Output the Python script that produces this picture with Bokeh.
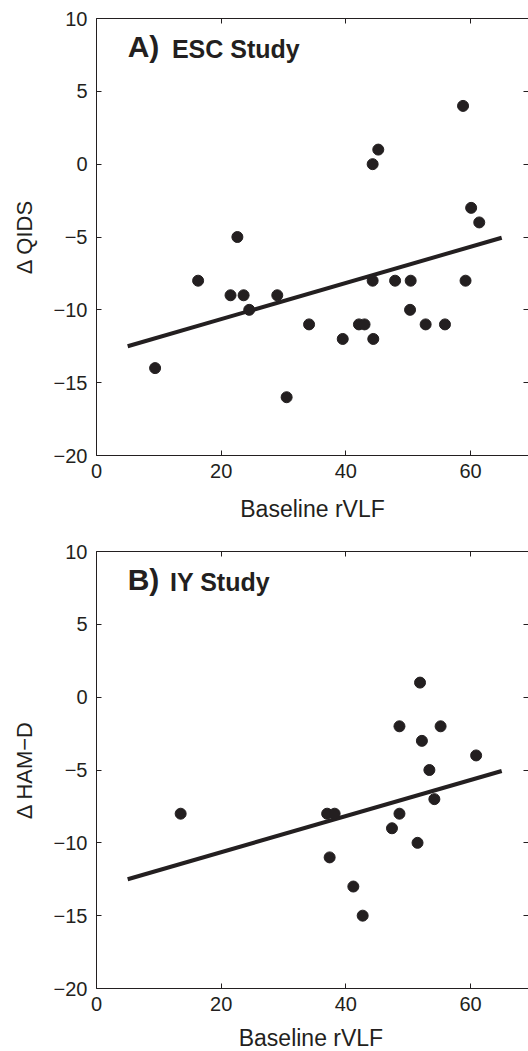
from bokeh.plotting import figure
from bokeh.models import LinearAxis, FixedTicker, Range1d, Label
from bokeh.layouts import column
from bokeh.embed import file_html
from bokeh.resources import INLINE

# ---- data -------------------------------------------------------------
x_ticks = [0, 20, 40, 60]
y_ticks = [-20, -15, -10, -5, 0, 5, 10]
y_tick_labels = ["\u221220", "\u221215", "\u221210", "\u22125", "0", "5", "10"]

esc_rvlf = [9.4, 16.3, 21.5, 22.6, 23.6, 24.5, 29.0, 30.5, 34.1, 39.5, 42.1, 43.0,
            44.3, 45.2, 44.3, 44.4, 47.9, 50.4, 50.3, 52.8, 55.9, 58.8, 59.2, 60.1, 61.4]
esc_dqids = [-14, -8, -9, -5, -9, -10, -9, -16, -11, -12, -11, -11,
             0, 1, -8, -12, -8, -8, -10, -11, -11, 4, -8, -3, -4]

iy_rvlf = [13.5, 37.0, 38.2, 37.4, 41.2, 42.7, 47.4, 48.6, 48.6, 51.5, 51.9, 52.2,
           53.4, 54.2, 55.2, 60.9]
iy_dhamd = [-8, -8, -8, -11, -13, -15, -9, -2, -8, -10, 1, -3, -5, -7, -2, -4]

fit_x = [5, 65]
esc_fit_y = [-12.5, -5.05]
iy_fit_y = [-12.5, -5.07]

FONT = "Liberation Sans"
INK = "#231f20"
XLABEL = "Baseline rVLF"
X_END = 69.3


def blank_axis(ticks):
    return LinearAxis(ticker=FixedTicker(ticks=ticks),
                      major_label_overrides={t: " " for t in ticks},
                      major_label_text_font_size="0px",
                      major_label_standoff=0,
                      major_tick_in=5, major_tick_out=0,
                      minor_tick_in=0, minor_tick_out=0,
                      major_tick_line_color=INK,
                      axis_line_color=INK)


def make_panel(xs, ys, fy, letter, study, study_x, ylabel, height, border_bottom,
               xlabel_as_axis):
    p = figure(width=528, height=height,
               x_range=Range1d(0, X_END), y_range=Range1d(-20, 10),
               output_backend="svg", toolbar_location=None,
               x_axis_location=None, y_axis_location=None,
               min_border_left=96, min_border_right=0,
               min_border_top=18, min_border_bottom=border_bottom)
    p.outline_line_color = None
    p.grid.grid_line_color = None
    p.background_fill_color = "white"
    p.border_fill_color = "white"

    common = dict(major_tick_in=5, major_tick_out=0, minor_tick_in=0,
                  minor_tick_out=0, major_tick_line_color=INK,
                  axis_line_color=INK,
                  major_label_text_font=FONT, major_label_text_font_size="20px",
                  major_label_text_color=INK,
                  axis_label_text_font=FONT, axis_label_text_font_style="normal",
                  axis_label_text_color=INK)

    xax = LinearAxis(ticker=FixedTicker(ticks=x_ticks),
                     axis_label=XLABEL if xlabel_as_axis else None,
                     major_label_standoff=8, axis_label_standoff=15,
                     axis_label_text_font_size="23px", **common)
    yax = LinearAxis(ticker=FixedTicker(ticks=y_ticks), axis_label=ylabel,
                     major_label_overrides=dict(zip(y_ticks, y_tick_labels)),
                     major_label_standoff=9, axis_label_standoff=14,
                     axis_label_text_font_size="22px", **common)
    p.add_layout(xax, "below")
    p.add_layout(yax, "left")
    p.add_layout(blank_axis(x_ticks), "above")
    rax = blank_axis(y_ticks)
    rax.axis_line_color = None
    p.add_layout(rax, "right")

    p.line(fit_x, fy, line_width=4, color=INK)
    p.scatter(xs, ys, size=11, color=INK, line_color=INK)

    p.add_layout(Label(x=5.0, y=8.05, text=letter, text_font=FONT,
                       text_font_size="30px", text_font_style="bold",
                       text_color=INK, text_baseline="middle"))
    p.add_layout(Label(x=study_x, y=7.94, text=study, text_font=FONT,
                       text_font_size="25px", text_font_style="bold",
                       text_color=INK, text_baseline="middle"))
    return p


pa = make_panel(esc_rvlf, esc_dqids, esc_fit_y, "A)", "ESC Study", 12.1,
                "\u0394 QIDS", 533, 78, True)
pb = make_panel(iy_rvlf, iy_dhamd, iy_fit_y, "B)", "IY Study", 11.8,
                "\u0394 HAM\u2212D", 490, 35, False)

# strip that carries the lower panel's x-axis title (the window is too short
# for a full axis panel there)
pl = figure(width=528, height=28, x_range=Range1d(0, X_END), y_range=Range1d(0, 28),
            output_backend="svg", toolbar_location=None,
            x_axis_location=None, y_axis_location=None,
            min_border_left=96, min_border_right=0, min_border_top=0,
            min_border_bottom=0)
pl.outline_line_color = None
pl.grid.grid_line_color = None
pl.add_layout(Label(x=34.4, y=13.5, text=XLABEL, text_font=FONT,
                    text_font_size="23px", text_color=INK,
                    text_align="center", text_baseline="middle"))

layout = column(pa, pb, pl, spacing=0)
open("out.html", "w").write(file_html(layout, INLINE))
